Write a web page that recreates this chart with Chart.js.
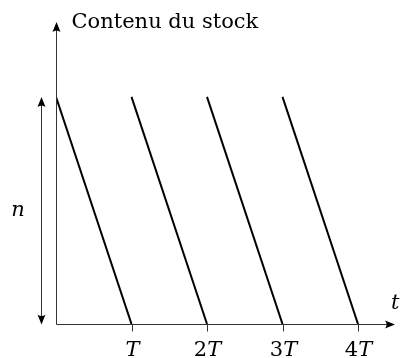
<!DOCTYPE html>
<html>
<head>
<meta charset="utf-8">
<script src="https://cdn.jsdelivr.net/npm/chart.js@4"></script>
<style>
  body { margin: 0; background: #fff; }
  #wrap { width: 400px; height: 358px; }
</style>
</head>
<body>
<div id="wrap"><canvas id="stockChart" width="400" height="358"></canvas></div>
<script>
// data
const cycleStarts = [0, 1, 2, 3];       // start of each cycle (in T)
const cycleEnds = [1, 2, 3, 4];         // stock is empty at these times
const stockFull = 1;                    // n
const stockEmpty = 0;
const tickValues = [1, 2, 3, 4];
const tickLabels = ['T', '2T', '3T', '4T'];
const xAxisEnd = 4.49;
const yAxisEnd = 1.33;

const datasets = cycleStarts.map((s, i) => ({
    data: [{x: s, y: stockFull}, {x: cycleEnds[i], y: stockEmpty}],
    borderColor: '#000',
    borderWidth: 2,
    pointRadius: 0,
    fill: false
}));

const upright = '21px "DejaVu Serif"';
const italic = 'italic 21px "DejaVu Serif"';

function arrowHead(c, x, y, dir) {
    c.save();
    c.translate(x, y);
    c.rotate(dir);
    c.beginPath();
    c.moveTo(0, 0);
    c.lineTo(-10, -4);
    c.quadraticCurveTo(-7, 0, -10, 4);
    c.closePath();
    c.fillStyle = '#000';
    c.fill();
    c.restore();
}

// "2T" -> upright 2, italic T, centred on cx
function mathLabel(c, text, cx, y) {
    const num = text.slice(0, -1), sym = text.slice(-1);
    c.font = upright;
    const w1 = c.measureText(num).width;
    c.font = italic;
    const w2 = c.measureText(sym).width;
    let x = cx - (w1 + w2) / 2;
    c.textAlign = 'left';
    c.font = upright;
    c.fillText(num, x, y);
    c.font = italic;
    c.fillText(sym, x + w1, y);
}

const axesPlugin = {
    id: 'stockAxes',
    afterDatasetsDraw(chart) {
        const c = chart.ctx;
        const xs = chart.scales.x, ys = chart.scales.y;
        const x0 = Math.round(xs.getPixelForValue(0)) + 0.5;
        const y0 = Math.round(ys.getPixelForValue(0)) + 0.5;
        const xEnd = xs.getPixelForValue(xAxisEnd);
        const yEnd = ys.getPixelForValue(yAxisEnd);
        c.save();
        c.strokeStyle = '#333';
        c.lineWidth = 1;
        // axes
        c.beginPath();
        c.moveTo(x0, y0); c.lineTo(xEnd - 4, y0);
        c.moveTo(x0, y0); c.lineTo(x0, yEnd + 4);
        c.stroke();
        arrowHead(c, xEnd, y0, 0);
        arrowHead(c, x0, yEnd, -Math.PI / 2);

        // ticks + labels
        c.fillStyle = '#000';
        c.textBaseline = 'alphabetic';
        tickValues.forEach((v, i) => {
            const px = Math.round(xs.getPixelForValue(v)) + 0.5;
            c.beginPath();
            c.moveTo(px, y0); c.lineTo(px, y0 + 7);
            c.stroke();
            mathLabel(c, tickLabels[i], px, y0 + 31);
        });

        // double arrow for n
        const ax = x0 - 15;
        const yTop = ys.getPixelForValue(stockFull);
        c.beginPath();
        c.moveTo(ax, yTop + 4); c.lineTo(ax, y0 - 4);
        c.stroke();
        arrowHead(c, ax, yTop, -Math.PI / 2);
        arrowHead(c, ax, y0, Math.PI / 2);
        c.font = italic;
        c.textAlign = 'center';
        c.fillText('n', 18, (yTop + y0) / 2 + 5);

        // axis names
        c.textAlign = 'left';
        c.fillText('t', 391, y0 - 16);
        c.font = upright;
        c.fillText('Contenu du stock', x0 + 15, yEnd + 6);
        c.restore();
    }
};

const ctx = document.getElementById('stockChart').getContext('2d');
const stockChart = new Chart(ctx, {
    type: 'line',
    data: { datasets: datasets },
    options: {
        responsive: false,
        animation: false,
        layout: { padding: { left: 56, right: 5, top: 22, bottom: 34 } },
        plugins: { legend: { display: false }, tooltip: { enabled: false } },
        scales: {
            x: { type: 'linear', min: 0, max: xAxisEnd, display: false },
            y: { type: 'linear', min: 0, max: yAxisEnd, display: false }
        }
    },
    plugins: [axesPlugin]
});
</script>
</body>
</html>
